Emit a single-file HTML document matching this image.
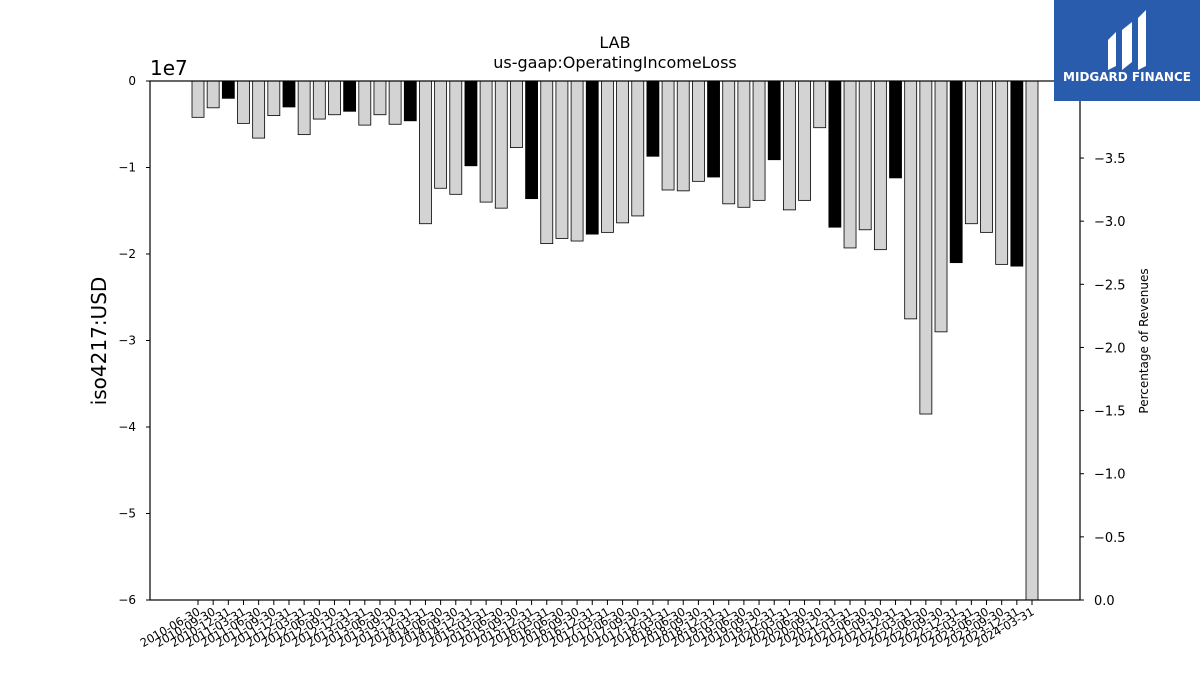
<!DOCTYPE html>
<html><head><meta charset="utf-8"><style>
body{margin:0;background:#fff;width:1200px;height:675px;overflow:hidden}
svg{font-family:"DejaVu Sans","Liberation Sans",sans-serif}
</style></head><body>
<svg id="c" width="1200" height="675">
<text x="615" y="48" text-anchor="middle" font-size="16">LAB</text>
<text x="615" y="68" text-anchor="middle" font-size="16">us-gaap:OperatingIncomeLoss</text>
<text x="150" y="75" font-size="20">1e7</text>
<text transform="translate(106,341) rotate(-90)" text-anchor="middle" font-size="20">iso4217:USD</text>
<text transform="translate(1148,341) rotate(-90)" text-anchor="middle" font-size="12">Percentage of Revenues</text>
<g id="bars"></g><g id="axes"></g>
<g>
<rect x="1054" y="0" width="146" height="101" fill="#2a5cad"/>
<path d="M1108 40 L1116 32 L1116 66 L1108 70 Z M1122 30 L1132 22 L1132 62 L1122 70 Z M1138 18 L1146 10 L1146 66 L1138 70 Z" fill="#fff"/>
<text x="1127" y="81" text-anchor="middle" font-size="12" font-weight="bold" fill="#fff">MIDGARD FINANCE</text>
</g>
</svg>
<script>
const categories=[];
for(let y=2010;y<=2024;y++)for(const q of ["03-31","06-30","09-30","12-31"]){const s=y+"-"+q;if(s>="2010-06-30"&&s<="2024-03-31")categories.push(s);}
const values=[-0.42,-0.31,-0.20,-0.49,-0.66,-0.40,-0.30,-0.62,-0.44,-0.39,-0.35,-0.51,-0.39,-0.50,-0.46,-1.65,-1.24,-1.31,-0.98,-1.40,-1.47,-0.77,-1.36,-1.88,-1.82,-1.85,-1.77,-1.75,-1.64,-1.56,-0.87,-1.26,-1.27,-1.16,-1.11,-1.42,-1.46,-1.38,-0.91,-1.49,-1.38,-0.54,-1.69,-1.93,-1.72,-1.95,-1.12,-2.75,-3.85,-2.90,-2.10,-1.65,-1.75,-2.12,-2.14,-6.05];
const leftTicks=[0,-1,-2,-3,-4,-5,-6];
const rightTicks=[0,-0.5,-1,-1.5,-2,-2.5,-3,-3.5];
const NS="http://www.w3.org/2000/svg";
const X0=150,X1=1080,Y0=81,Y1=600;
const y=v=>Y0+(-v)/6*(Y1-Y0);
const yr=v=>Y1-(-v)/4.11*(Y1-Y0);
const step=(1032-198)/(categories.length-1);
const x=i=>198+i*step;
function mk(t,a,p){const e=document.createElementNS(NS,t);for(const k in a)e.setAttribute(k,a[k]);(p||document.getElementById('axes')).appendChild(e);return e;}
const bars=document.getElementById('bars');
values.forEach((v,i)=>{
 const top=y(0),bot=Math.min(y(v),Y1);
 const r=mk('rect',{x:x(i)-6,y:top,width:12,height:bot-top,fill:categories[i].endsWith("12-31")?"#000":"#d3d3d3",stroke:"#000","stroke-width":0.8},bars);
 
 
});
const fr=mk('rect',{x:X0,y:Y0,width:X1-X0,height:Y1-Y0,fill:"none",stroke:"#000","stroke-width":1.2});


leftTicks.forEach(v=>{
 mk('line',{x1:X0-4,x2:X0,y1:y(v),y2:y(v),stroke:"#000"});
 const t=mk('text',{x:X0-14,y:y(v)+4,"text-anchor":"end","font-size":12});
 t.textContent=v===0?"0":"\u2212"+(-v);
 
 
});
rightTicks.forEach(v=>{
 mk('line',{x1:X1,x2:X1+4,y1:yr(v),y2:yr(v),stroke:"#000"});
 const t=mk('text',{x:X1+14,y:yr(v)+5,"font-size":13});
 t.textContent=v===0?"0.0":"\u2212"+(-v).toFixed(1);
 
 
});
categories.forEach((c,i)=>{
 mk('line',{x1:x(i),x2:x(i),y1:Y1,y2:Y1+5,stroke:"#000"});
 const t=mk('text',{transform:`translate(${x(i)+3},${Y1+14}) rotate(-30)`,"text-anchor":"end","font-size":11.5});
 t.textContent=c;
 
 
});
</script>
</body></html>
